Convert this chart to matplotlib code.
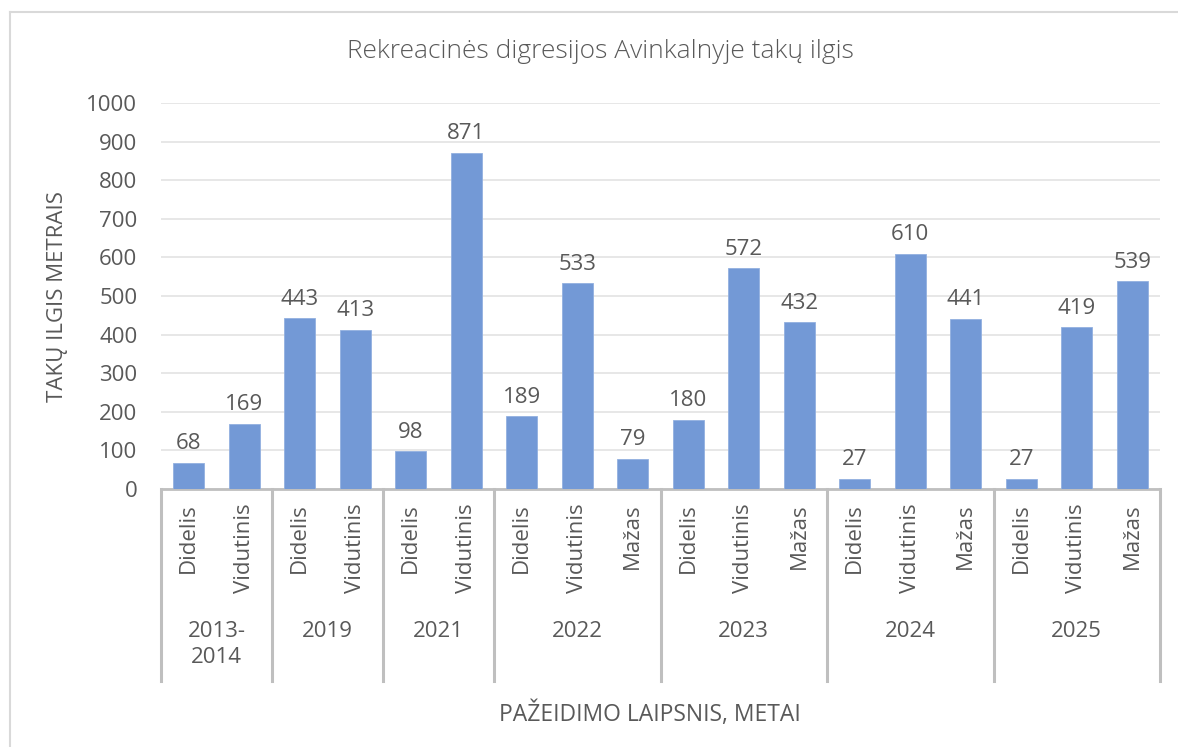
import matplotlib.pyplot as plt
from matplotlib.lines import Line2D

plt.rcParams['font.family'] = ['Open Sans', 'DejaVu Sans']

# Duomenys
metai = ['2013-\n2014', '2019', '2021', '2022', '2023', '2024', '2025']
laipsniai = [
    ['Didelis', 'Vidutinis'],
    ['Didelis', 'Vidutinis'],
    ['Didelis', 'Vidutinis'],
    ['Didelis', 'Vidutinis', 'Mažas'],
    ['Didelis', 'Vidutinis', 'Mažas'],
    ['Didelis', 'Vidutinis', 'Mažas'],
    ['Didelis', 'Vidutinis', 'Mažas'],
]
ilgiai = [
    [68, 169],
    [443, 413],
    [98, 871],
    [189, 533, 79],
    [180, 572, 432],
    [27, 610, 441],
    [27, 419, 539],
]

tekstas = '#595959'
linija = '#BFBFBF'
stulpelis = '#7399D6'

fig = plt.figure(figsize=(11.78, 7.47), dpi=100)
ax = fig.add_axes([161 / 1178, 1 - 489 / 747, 999 / 1178, 386 / 747])

# sudedam visas kategorijas vienoje eilėje
reiksmes = [v for grupe in ilgiai for v in grupe]
x = list(range(len(reiksmes)))

bars = ax.bar(x, reiksmes, width=0.55, color=stulpelis, edgecolor='#92B0E0', linewidth=0.6, zorder=3)
ax.bar_label(bars, padding=6, fontsize=16, color=tekstas)

ax.set_xlim(-0.5, len(reiksmes) - 0.5)
ax.set_ylim(0, 1000)
ax.set_yticks(range(0, 1001, 100))
ax.tick_params(axis='y', length=0, pad=17, labelsize=16, labelcolor=tekstas)
ax.set_xticks([])
ax.grid(axis='y', color='#E3E3E3', linewidth=1.2, zorder=0)

for s in ['top', 'right', 'left']:
    ax.spines[s].set_visible(False)
ax.spines['bottom'].set_color(linija)
ax.spines['bottom'].set_linewidth(2)

trans = ax.get_xaxis_transform()
apacia = (489 - 681) / 386

# grupių skirtukai ir užrašai po ašimi
pradzia = 0
ribos = [-0.5]
for metas, grupe in zip(metai, laipsniai):
    for i, l in enumerate(grupe):
        ax.text(pradzia + i, (489 - 503) / 386, l, rotation=90, ha='center', va='top',
                fontsize=16, color=tekstas, transform=trans)
    vidurys = pradzia + (len(grupe) - 1) / 2
    ax.text(vidurys, (489 - 621) / 386, metas, ha='center', va='top', fontsize=16,
            color=tekstas, transform=trans, linespacing=1.3)
    pradzia += len(grupe)
    ribos.append(pradzia - 0.5)

for r in ribos:
    ax.plot([r, r], [0, apacia], color=linija, linewidth=2.2, transform=trans, clip_on=False)

ax.set_ylabel('TAKŲ ILGIS METRAIS', fontsize=16, color=tekstas, labelpad=13)
fig.text(650 / 1178, 1 - 714 / 747, 'PAŽEIDIMO LAIPSNIS, METAI', ha='center', va='center',
         fontsize=16.5, color=tekstas)
fig.text(600 / 1178, 1 - 52 / 747, 'Rekreacinės digresijos Avinkalnyje takų ilgis',
         ha='center', va='center', fontsize=19, color=tekstas, fontweight='light')

# diagramos rėmelis
fig.add_artist(Line2D([10 / 1178, 10 / 1178], [0, 1 - 12 / 747], color='#D9D9D9', linewidth=1.5))
fig.add_artist(Line2D([10 / 1178, 1], [1 - 12 / 747, 1 - 12 / 747], color='#D9D9D9', linewidth=1.5))

fig.savefig('out.png', dpi=100)
